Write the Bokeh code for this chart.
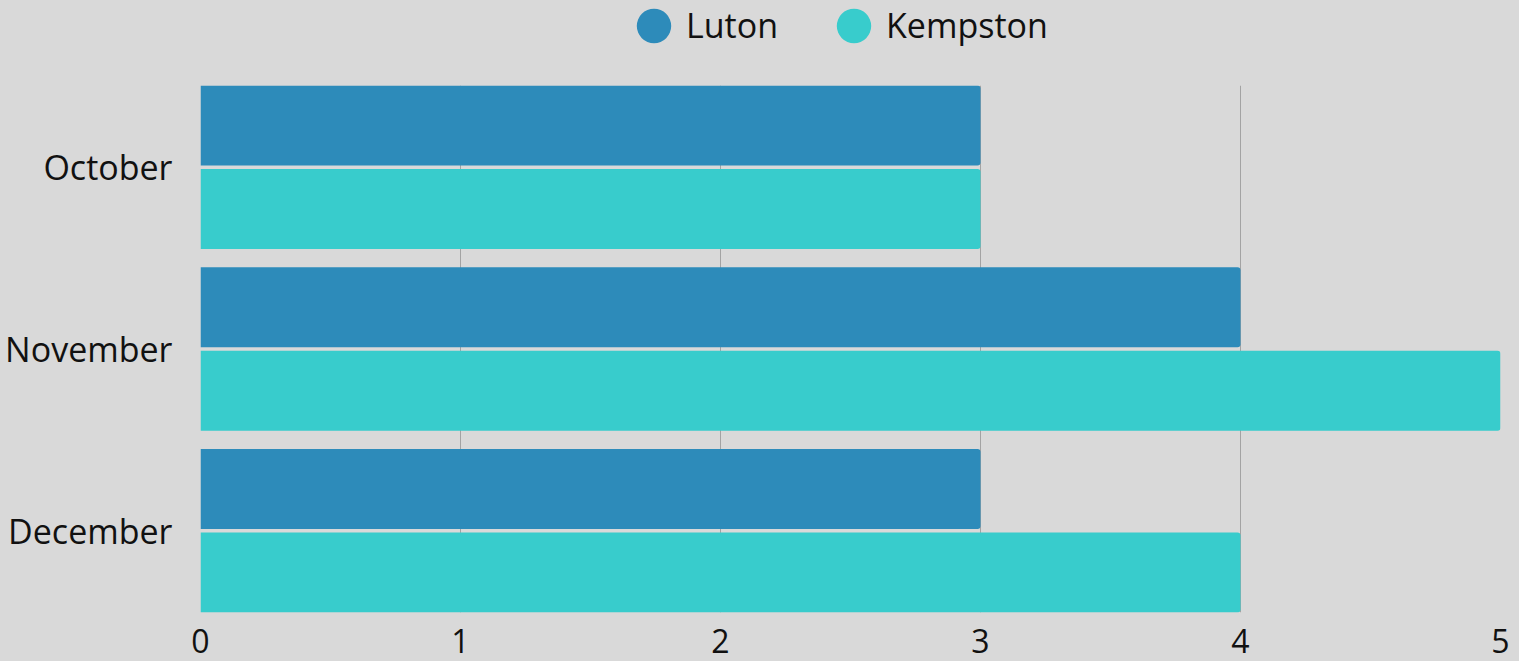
from bokeh.plotting import figure
from bokeh.models import ColumnDataSource, Range1d, FixedTicker, Legend, LegendItem
from bokeh.layouts import column
from bokeh.embed import file_html
from bokeh.resources import INLINE

months = ["October", "November", "December"]
series = ["Luton", "Kempston"]
luton = [3, 4, 3]
kempston = [3, 5, 4]
colors = ["#2d8bba", "#38cccc"]
x_ticks = [0, 1, 2, 3, 4, 5]

FONT = "Open Sans"
BG = "#d9d9d9"
TXT = "#111111"

pos = [len(months) - 1 - i for i in range(len(months))]
BORDERS = dict(min_border_left=200, min_border_right=19)

# ---------- legend strip ----------
lg = figure(width=1519, height=85, output_backend="svg", toolbar_location=None,
            x_axis_type=None, y_axis_type=None, min_border_top=0, min_border_bottom=0,
            **BORDERS)
lg.background_fill_color = BG
lg.border_fill_color = BG
lg.outline_line_color = None
lg.xgrid.visible = False
lg.ygrid.visible = False
src_ll = ColumnDataSource(dict(x=luton, y=pos))
src_lk = ColumnDataSource(dict(x=kempston, y=pos))
e_l = lg.ellipse(x="x", y="y", width=0.001, height=0.001, width_units="screen",
                 height_units="screen", source=src_ll, fill_color=colors[0], line_color=None)
e_k = lg.ellipse(x="x", y="y", width=0.001, height=0.001, width_units="screen",
                 height_units="screen", source=src_lk, fill_color=colors[1], line_color=None)
legend = Legend(items=[LegendItem(label=series[0], renderers=[e_l]),
                       LegendItem(label=series[1], renderers=[e_k])],
                orientation="horizontal", location=(432, 37),
                glyph_width=43, glyph_height=43, label_standoff=11, spacing=0,
                label_width=146,
                padding=0, margin=0, background_fill_alpha=0, border_line_color=None,
                label_text_font=FONT, label_text_font_size="34px", label_text_color=TXT)
lg.add_layout(legend, "center")

# ---------- main chart ----------
p = figure(width=1519, height=576, output_backend="svg", toolbar_location=None,
           x_range=Range1d(0, 5), y_range=Range1d(-0.45, len(months) - 0.55),
           min_border_top=0, min_border_bottom=49, **BORDERS)
p.background_fill_color = BG
p.border_fill_color = BG
p.outline_line_color = None

off = 0.23
h = 0.44
src_l = ColumnDataSource(dict(y=[v + off for v in pos], right=luton))
src_k = ColumnDataSource(dict(y=[v - off for v in pos], right=kempston))
p.hbar(y="y", left=0, right="right", height=h, source=src_l, fill_color=colors[0],
       line_color=None, border_radius=(0, 3, 3, 0))
p.hbar(y="y", left=0, right="right", height=h, source=src_k, fill_color=colors[1],
       line_color=None, border_radius=(0, 3, 3, 0))

p.xaxis.ticker = FixedTicker(ticks=x_ticks)
p.yaxis.ticker = FixedTicker(ticks=pos)
p.yaxis.major_label_overrides = {v: m for v, m in zip(pos, months)}

for ax in (p.xaxis[0], p.yaxis[0]):
    ax.axis_line_color = None
    ax.major_tick_line_color = None
    ax.minor_tick_line_color = None
    ax.major_label_text_font = FONT
    ax.major_label_text_color = TXT
p.yaxis.major_label_text_font_size = "34px"
p.xaxis.major_label_text_font_size = "32px"
p.xaxis.major_label_standoff = 10
p.yaxis.major_label_standoff = 22

p.xgrid.ticker = FixedTicker(ticks=x_ticks)
p.xgrid.grid_line_color = "#a3a3a3"
p.xgrid.grid_line_width = 1
p.ygrid.grid_line_color = None
p.xgrid.level = "underlay"

layout = column(lg, p, spacing=0, styles={"background-color": BG})
open("out.html", "w").write(file_html(layout, INLINE))
